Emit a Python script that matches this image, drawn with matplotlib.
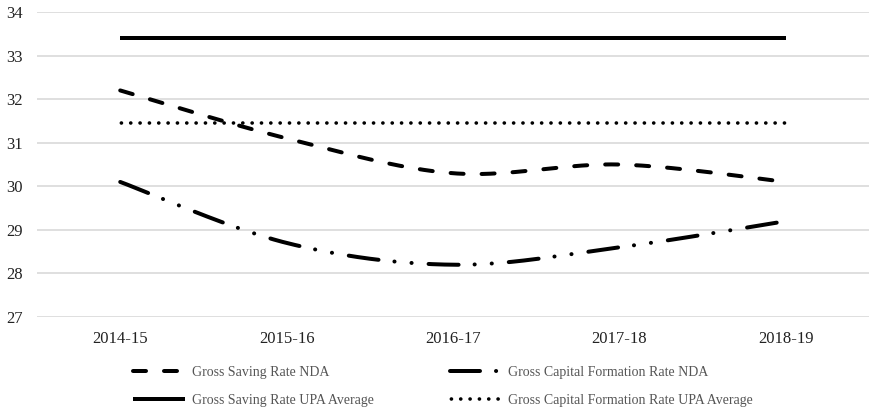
import numpy as np
import matplotlib
matplotlib.use("Agg")
import matplotlib.pyplot as plt

categories = ["2014-15", "2015-16", "2016-17", "2017-18", "2018-19"]
saving_nda = [32.2, 31.1, 30.3, 30.5, 30.1]
gcf_nda = [30.1, 28.7, 28.2, 28.6, 29.2]
saving_upa_avg = [33.4, 33.4, 33.4, 33.4, 33.4]
gcf_upa_avg = [31.45, 31.45, 31.45, 31.45, 31.45]
yticks = [27, 28, 29, 30, 31, 32, 33, 34]

plt.rcParams['font.family'] = ['Liberation Serif', 'DejaVu Serif']
plt.rcParams['lines.scale_dashes'] = False


def smooth(xs, ys, n=40):
    """Excel-like smoothed line (Bezier through the points)."""
    xs = np.asarray(xs, float)
    ys = np.asarray(ys, float)
    P = np.column_stack([xs, ys])
    out = []
    for i in range(len(P) - 1):
        p0 = P[i - 1] if i > 0 else P[i]
        p1 = P[i]
        p2 = P[i + 1]
        p3 = P[i + 2] if i + 2 < len(P) else P[i + 1]
        c1 = p1 + (p2 - p0) / 6.0
        c2 = p2 - (p3 - p1) / 6.0
        t = np.linspace(0, 1, n, endpoint=(i == len(P) - 2))[:, None]
        seg = ((1 - t) ** 3) * p1 + 3 * ((1 - t) ** 2) * t * c1 + 3 * (1 - t) * t ** 2 * c2 + t ** 3 * p2
        out.append(seg)
    out = np.vstack(out)
    return out[:, 0], out[:, 1]


fig = plt.figure(figsize=(8.69, 4.07), dpi=100)
ax = fig.add_axes([0.0426, 0.2211, 0.9574, 0.7494])

x = np.arange(len(categories))
px = 0.72  # points per pixel
lw = 4 * px

xs, ys = smooth(x, saving_nda)
l1, = ax.plot(xs, ys, color='black', lw=lw, dash_capstyle='round',
              solid_capstyle='round', label='Gross Saving Rate NDA',
              linestyle=(0, (13 * px, 18 * px)))

xs, ys = smooth(x, gcf_nda)
l2, = ax.plot(xs, ys, color='black', lw=lw, dash_capstyle='round',
              solid_capstyle='round', label='Gross Capital Formation Rate NDA',
              linestyle=(0, (30 * px, 16 * px, 0.1, 17 * px, 0.1, 17 * px)))

l3, = ax.plot(x, saving_upa_avg, color='black', lw=lw, solid_capstyle='butt',
              label='Gross Saving Rate UPA Average')

l4, = ax.plot(x, gcf_upa_avg, color='black', lw=3.6 * px, dash_capstyle='round',
              label='Gross Capital Formation Rate UPA Average',
              linestyle=(8 * px, (0.1, 9.2 * px)))

ax.set_xlim(-0.5, len(categories) - 0.5)
ax.set_ylim(27, 34)
ax.set_yticks(yticks)
ax.set_xticks(x)
ax.set_xticklabels(categories)
ax.tick_params(axis='both', length=0, labelsize=12, colors='#222222')
ax.tick_params(axis='y', pad=10)
ax.tick_params(axis='x', pad=10)
ax.grid(axis='y', color='#d9d9d9', lw=1.2)
ax.set_axisbelow(True)
for s in ax.spines.values():
    s.set_visible(False)

leg = fig.legend(handles=[l1, l3, l2, l4], loc='lower left', bbox_to_anchor=(0.147, -0.014),
                 ncol=2, frameon=False, fontsize=10, handlelength=3.7, handletextpad=0.5,
                 columnspacing=5.5, labelspacing=1.1, borderaxespad=0.0)
for t in leg.get_texts():
    t.set_color('#555555')

fig.savefig('out.png', dpi=100)
